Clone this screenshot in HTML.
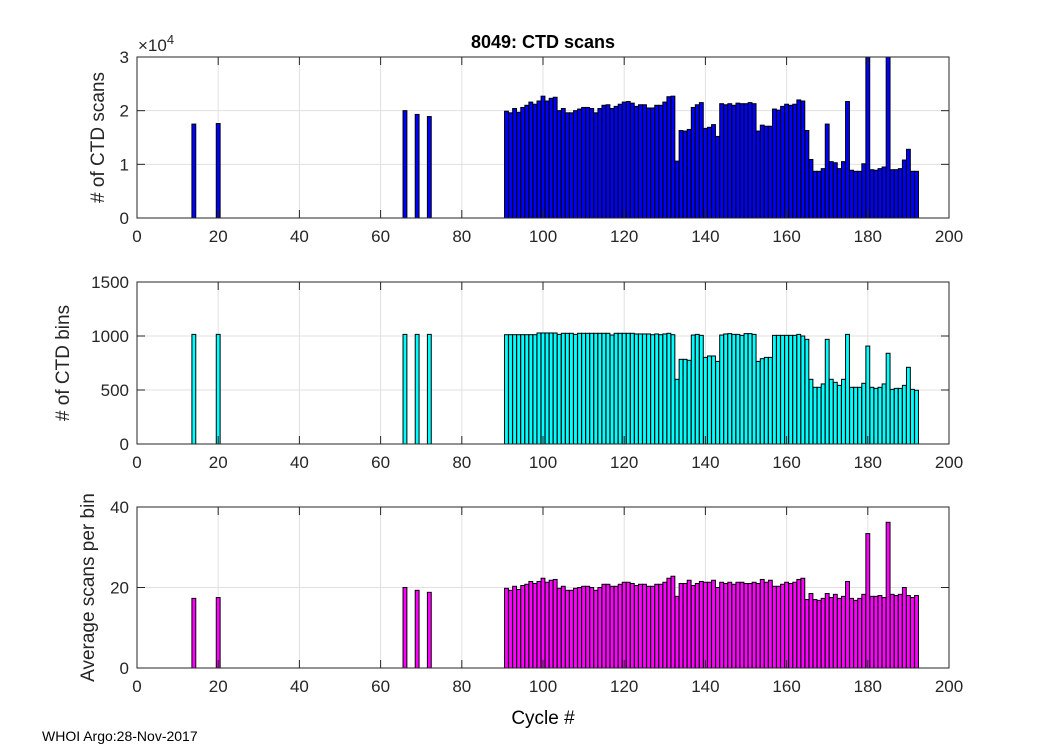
<!DOCTYPE html>
<html><head><meta charset="utf-8">
<style>
body{margin:0;background:#fff;}
svg{display:block;font-family:"Liberation Sans",Arial,sans-serif;}
</style></head>
<body>
<svg id="chart" width="1050" height="750" viewBox="0 0 1050 750" xmlns="http://www.w3.org/2000/svg">
<rect width="1050" height="750" fill="#fff"/>
<text x="543" y="48" text-anchor="middle" font-size="18" font-weight="bold">8049: CTD scans</text>
<text x="543" y="724" text-anchor="middle" font-size="19">Cycle #</text>
<text x="42" y="741" font-size="14">WHOI Argo:28-Nov-2017</text>
<g id="plots"></g>
</svg>
<script>
const cycles = [14,20,66,69,72];
for (let c = 91; c <= 192; c++) cycles.push(c);
const scans = [17.5,17.6,20.0,19.3,18.9,
19.9,19.6,20.4,19.7,20.6,21.0,21.6,21.2,21.8,22.7,21.8,22.3,22.5,20.0,20.4,19.6,19.6,20.0,20.3,20.6,20.6,20.4,19.6,20.4,21.0,21.1,20.4,20.8,21.2,21.6,21.7,21.4,20.8,21.1,21.1,20.5,20.5,21.0,21.0,21.6,22.6,22.7,10.6,16.3,16.2,16.5,20.6,21.1,21.5,16.7,16.9,17.4,15.2,21.3,21.1,
21.3,21.0,21.4,21.3,21.3,21.5,21.3,16.2,17.3,17.1,17.1,20.3,20.1,20.8,21.2,21.0,21.2,22.0,21.8,16.3,10.9,8.7,8.7,9.2,17.5,10.5,10.3,9.2,10.5,21.7,8.9,8.7,8.7,10.1,30.4,9.0,8.9,9.2,9.5,30.7,9.0,9.0,9.2,10.8,12.8,8.7,8.7];
const binsZy = [43,43,43,43,43,
44,44,44,44,44,44,44,44,39,39,39,39,39,43,40,40,40,43,40,40,40,40,40,40,40,40,45,40,40,40,40,40,42,42,42,42,44,42,44,42,40,44,178,118,118,121,45,43,46,112,108,108,124,45,42,
41,43,43,46,41,41,43,124,116,112,112,46,46,46,46,46,46,43,48,58,178,202,202,192,58,178,187,196,178,43,202,202,202,190,78,202,205,202,192,100,208,205,205,196,142,208,211];
const bins = binsZy.map(z => Math.round((124 - z/3)/0.108));
const avgScans = [17.3,17.5,20.0,19.3,18.8,
19.8,19.3,20.3,19.5,20.5,20.8,21.5,21.0,21.5,22.3,21.3,21.8,22.0,19.8,20.3,19.3,19.3,19.8,20.0,20.3,20.3,20.0,19.3,20.0,20.8,20.8,20.3,20.3,20.8,21.3,21.3,21.0,20.5,20.8,20.8,20.3,20.3,20.8,20.8,21.3,22.3,22.8,17.8,21.0,21.0,21.8,20.5,21.0,21.5,21.3,21.3,21.8,20.0,21.3,21.0,
21.3,20.8,21.3,21.3,21.0,21.0,21.3,21.0,22.0,21.3,21.8,20.3,20.3,20.8,21.3,21.0,21.3,22.0,22.3,17.0,18.5,17.0,16.8,17.3,18.5,17.5,18.3,17.3,17.8,21.5,17.3,16.8,17.3,18.3,33.4,17.8,17.8,18.0,17.5,36.2,18.3,18.0,18.3,20.0,18.0,17.5,18.0];
const xTicks = [0,20,40,60,80,100,120,140,160,180,200];
const NS = "http://www.w3.org/2000/svg";
const g = document.getElementById('plots');
const X0 = 137, X1 = 949;
const xs = v => X0 + (X1 - X0) * v / 200;
function mk(tag, attrs, parent) {
  const e = document.createElementNS(NS, tag);
  for (const k in attrs) e.setAttribute(k, attrs[k]);
  (parent || g).appendChild(e);
  return e;
}
const panels = [
  {name:'scans', vals:scans, y0:218, y1:57, max:30, ticks:[0,10,20,30], labels:['0','1','2','3'], color:'#0000ff', ylab:'# of CTD scans', ylx:104},
  {name:'bins', vals:bins, y0:444, y1:282, max:1500, ticks:[0,500,1000,1500], labels:['0','500','1000','1500'], color:'#00ffff', ylab:'# of CTD bins', ylx:69},
  {name:'avg', vals:avgScans, y0:668, y1:507, max:40, ticks:[0,20,40], labels:['0','20','40'], color:'#ff00ff', ylab:'Average scans per bin', ylx:94}
];
panels.forEach(p => {
  const ys = v => p.y0 - (p.y0 - p.y1) * Math.min(v, p.max) / p.max;
  const pg = mk('g', {});
  
  
  mk('rect', {x:X0, y:p.y1, width:X1-X0, height:p.y0-p.y1, fill:'#fff'}, pg);
  xTicks.forEach(t => { mk('line', {x1:xs(t), x2:xs(t), y1:p.y1, y2:p.y0, stroke:'#e0e0e0', 'stroke-width':1}, pg); });
  p.ticks.forEach(t => { mk('line', {x1:X0, x2:X1, y1:ys(t), y2:ys(t), stroke:'#e0e0e0', 'stroke-width':1}, pg); });
  const bw = (X1 - X0) / 200 * 0.95;
  p.vals.forEach((v, i) => {
    const top = ys(v);
    const r = mk('rect', {x:xs(cycles[i]) - bw/2, y:top, width:bw, height:p.y0 - top, fill:p.color, stroke:'#000', 'stroke-width':1}, pg);
    
    
  });
  mk('rect', {x:X0, y:p.y1, width:X1-X0, height:p.y0-p.y1, fill:'none', stroke:'#262626', 'stroke-width':1}, pg);
  xTicks.forEach(t => {
    mk('line', {x1:xs(t), x2:xs(t), y1:p.y0, y2:p.y0-8, stroke:'#262626'}, pg);
    mk('line', {x1:xs(t), x2:xs(t), y1:p.y1, y2:p.y1+8, stroke:'#262626'}, pg);
    const tl = mk('text', {x:xs(t), y:p.y0+24, 'text-anchor':'middle', 'font-size':17, fill:'#262626'}, pg);
    tl.textContent = t;
    
    
  });
  p.ticks.forEach((t, i) => {
    mk('line', {x1:X0, x2:X0+8, y1:ys(t), y2:ys(t), stroke:'#262626'}, pg);
    mk('line', {x1:X1, x2:X1-8, y1:ys(t), y2:ys(t), stroke:'#262626'}, pg);
    const tl = mk('text', {x:X0-8, y:ys(t)+6, 'text-anchor':'end', 'font-size':17, fill:'#262626'}, pg);
    tl.textContent = p.labels[i];
    
    
  });
  const yl = mk('text', {x:p.ylx, y:(p.y0+p.y1)/2, 'text-anchor':'middle', 'font-size':19, fill:'#262626', transform:'rotate(-90 '+p.ylx+' '+((p.y0+p.y1)/2)+')'}, pg);
  yl.textContent = p.ylab;
  
  
});
const ex = mk('text', {x:138, y:51, 'font-size':17, fill:'#262626'});
ex.innerHTML = '×10<tspan dy="-7" font-size="13">4</tspan>';


</script>
</body></html>
